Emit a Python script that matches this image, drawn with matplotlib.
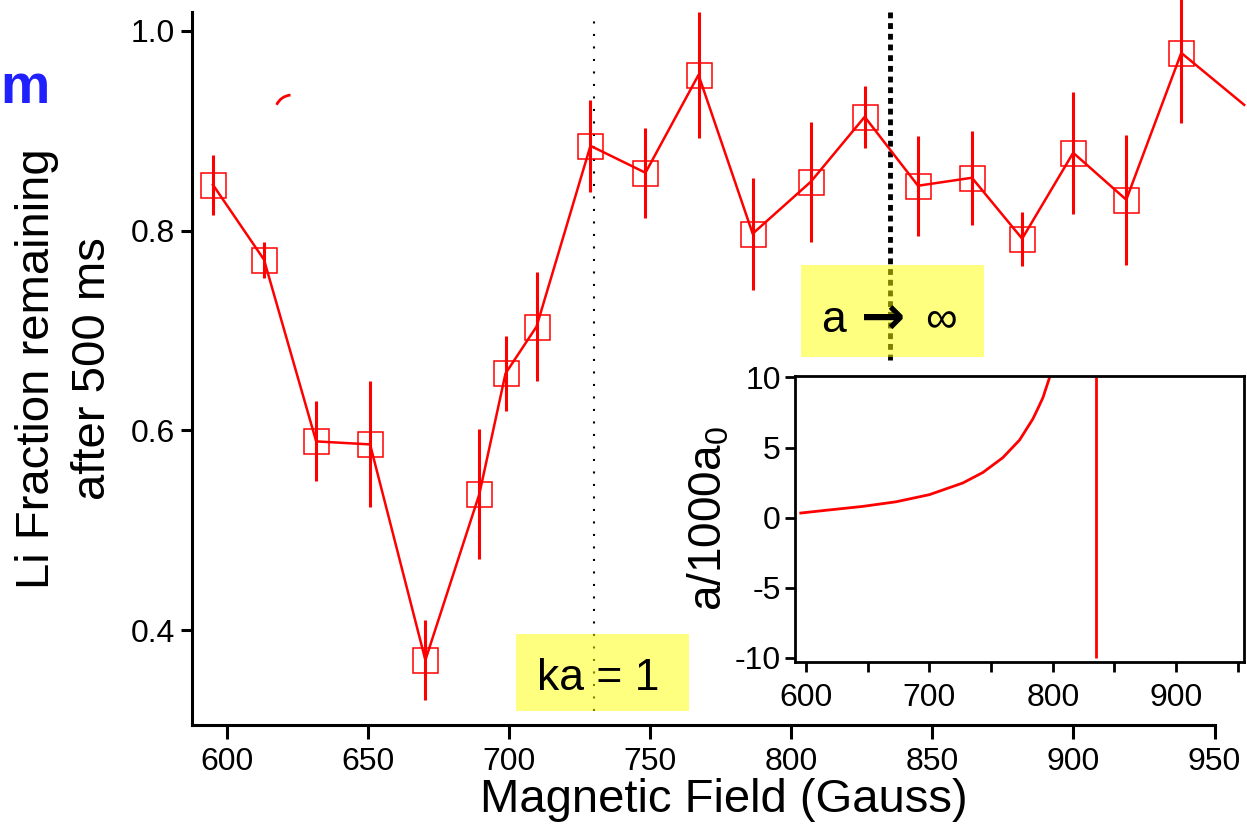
import matplotlib
matplotlib.use("Agg")
import matplotlib.pyplot as plt
from matplotlib.patches import Rectangle, Arc
from matplotlib.ticker import MultipleLocator, FormatStrFormatter

plt.rcParams['font.family'] = ['Liberation Sans', 'DejaVu Sans']
plt.rcParams['mathtext.default'] = 'regular'
plt.rcParams['axes.unicode_minus'] = False

# Main data: Li fraction remaining vs magnetic field
field = [595.0, 613.1, 631.6, 650.7, 670.3, 689.4, 698.7, 709.7, 728.8, 748.3,
         767.1, 786.3, 806.9, 826.0, 844.9, 864.0, 881.8, 899.9, 918.7, 938.2]
fraction = [0.846, 0.771, 0.589, 0.586, 0.370, 0.536, 0.657, 0.704, 0.885, 0.858,
            0.956, 0.797, 0.849, 0.914, 0.845, 0.853, 0.792, 0.878, 0.831, 0.978]
err = [0.030, 0.018, 0.040, 0.063, 0.040, 0.065, 0.038, 0.055, 0.046, 0.045,
       0.063, 0.056, 0.060, 0.031, 0.050, 0.047, 0.027, 0.061, 0.065, 0.070]
# trailing point beyond the axis (line only)
tail_field = [960.5]
tail_fraction = [0.926]

# Inset: scattering length a/1000a0 vs field
inset_field = [595.7, 618.8, 645.8, 672.9, 700.0, 727.0, 743.3, 759.5, 773.1,
               783.9, 788.0, 792.0, 797.4]
inset_a = [0.33, 0.55, 0.80, 1.13, 1.64, 2.47, 3.22, 4.28, 5.54,
           7.05, 7.80, 8.56, 10.0]
resonance = 834.8

ka1_field = 730.2
red = '#ff0000'

fig = plt.figure(figsize=(12.47, 8.32), dpi=100)
ax = fig.add_axes([0.154, 0.1286, 0.820, 0.857])

ax.plot(field + tail_field, fraction + tail_fraction, color=red, lw=1.8,
        clip_on=False, zorder=3)
ax.errorbar(field, fraction, yerr=err, fmt='none', ecolor=red, elinewidth=2.2,
            capsize=0, clip_on=False, zorder=3)
ax.plot(field, fraction, ls='none', marker='s', ms=18, mfc='none', mec=red,
        mew=1.1, clip_on=False, zorder=4)

# stray arc fragment (figure inches, so the circle stays round)
fig.add_artist(Arc((2.92, 7.20), 0.34, 0.34, theta1=95, theta2=155, edgecolor=red,
                   lw=2.0, transform=fig.dpi_scale_trans))

ax.set_xlim(587.6, 950)
ax.set_ylim(0.305, 1.019)
ax.set_xticks([600, 650, 700, 750, 800, 850, 900, 950])
ax.set_yticks([0.4, 0.6, 0.8, 1.0])
ax.yaxis.set_major_formatter(FormatStrFormatter('%.1f'))
for s in ['top', 'right']:
    ax.spines[s].set_visible(False)
for s in ['left', 'bottom']:
    ax.spines[s].set_linewidth(2.2)
ax.tick_params(axis='x', direction='out', length=10, width=2.2, labelsize=23, pad=6)
ax.tick_params(axis='y', direction='out', length=8, width=2.2, labelsize=23, pad=4)
ax.set_xlabel('Magnetic Field (Gauss)', fontsize=34)
ax.xaxis.set_label_coords(0.52, -0.075)
ax.set_ylabel('Li Fraction remaining\nafter 500 ms', fontsize=34, linespacing=1.35)
ax.yaxis.set_label_coords(-0.075, 0.5)

# resonance markers
ax.vlines(ka1_field, 0.319, 1.013, colors='k', lw=1.5, linestyles=(0, (1, 5)), zorder=2)
ax.vlines(resonance, 0.671, 1.019, colors='k', lw=3.5, linestyles=(0, (1.2, 1.0)),
          clip_on=False, zorder=2)

ax.add_patch(Rectangle((702.4, 0.319), 61.3, 0.077, facecolor='#ffff00', alpha=0.5,
                       edgecolor='none', zorder=5))
ax.text(731.4, 0.340, 'ka = 1', fontsize=32, ha='center', va='baseline', zorder=6)
ax.add_patch(Rectangle((803.3, 0.674), 64.9, 0.092, facecolor='#ffff00', alpha=0.5,
                       edgecolor='none', zorder=5))
ax.text(815.0, 0.699, 'a', fontsize=32, ha='center', va='baseline', zorder=6)
ax.text(832.5, 0.697, '\u2192', fontsize=38, ha='center', va='baseline', zorder=6,
        family=['DejaVu Sans'], fontweight='bold')
ax.text(853.1, 0.699, '\u221e', fontsize=32, ha='center', va='baseline', zorder=6)

# inset
ins = fig.add_axes([0.6373, 0.2043, 0.3603, 0.3437])
ins.plot(inset_field, inset_a, color=red, lw=2)
ins.vlines(resonance, -10, 10, colors=red, lw=2)
ins.set_xlim(590.8, 955)
ins.set_ylim(-10.3, 10.1)
ins.set_xticks([600, 700, 800, 900])
ins.xaxis.set_minor_locator(MultipleLocator(50))
ins.set_yticks([-10, -5, 0, 5, 10])
for s in ins.spines.values():
    s.set_linewidth(2)
ins.tick_params(which='both', axis='x', direction='out', length=7, width=2,
                labelsize=23, pad=8)
ins.tick_params(axis='y', direction='out', length=7, width=2, labelsize=23, pad=3)
ins.set_ylabel('a/1000a$_0$', fontsize=33, labelpad=2)

fig.text(0.0, 1 - 103 / 832, 'm', color='#2020ff', fontsize=40,
         fontweight='bold', ha='left', va='baseline')

fig.savefig('out.png', dpi=100)
